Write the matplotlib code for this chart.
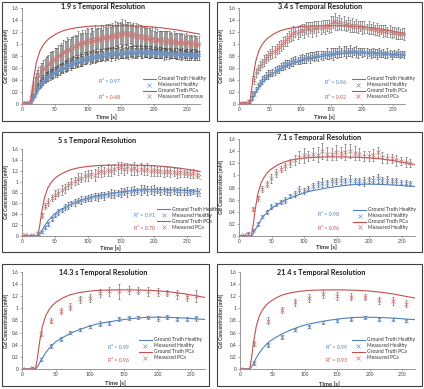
import numpy as np
import matplotlib
matplotlib.use("Agg")
import matplotlib.pyplot as plt
from matplotlib.patches import Rectangle

plt.rcParams['font.family'] = ['Lato', 'DejaVu Sans']

# ground truth curves, time relative to contrast arrival [s]
gt_trel = [0, 3, 6, 10, 15, 20, 25, 30, 40, 50, 60, 70, 80, 90, 100, 120, 140, 160, 180, 200, 220, 240, 260]
gt_healthy = [0, 0.04, 0.10, 0.18, 0.27, 0.34, 0.40, 0.45, 0.52, 0.58, 0.63, 0.67, 0.71, 0.74, 0.76, 0.80,
              0.83, 0.85, 0.855, 0.85, 0.84, 0.825, 0.81]
gt_pca = [0, 0.20, 0.45, 0.70, 0.88, 0.98, 1.05, 1.10, 1.17, 1.22, 1.25, 1.27, 1.285, 1.295, 1.30, 1.305,
          1.305, 1.30, 1.29, 1.27, 1.24, 1.20, 1.16]

titles = ["1.9 s Temporal Resolution", "3.4 s Temporal Resolution", "5 s Temporal Resolution",
          "7.1 s Temporal Resolution", "14.3 s Temporal Resolution", "21.4 s Temporal Resolution"]
dts = [1.9, 3.4, 5.0, 7.1, 14.3, 21.4]
onsets = [12, 17, 24, 19, 20, 15]
r2_healthy = ["0.97", "0.96", "0.91", "0.98", "0.99", "0.99"]
r2_pca = ["0.48", "0.92", "0.70", "0.96", "0.96", "0.93"]
legend_labels = [
    ["Ground Truth Healthy", "Measured Healthy", "Ground Truth PCa", "Measured Tumorous"],
    ["Ground Truth Healthy", "Measured Healthy", "Ground Truth PCa", "Measured PCa"],
    ["Ground Truth Healthy", "Measured Healthy", "Ground Truth PCa", "Measured PCa"],
    ["Ground Truth Healthy", "Measured Healthy", "Ground Truth PCa", "Measured Healthy"],
    ["Ground Truth Healthy", "Measured Healthy", "Ground Truth PCa", "Measured PCa"],
    ["Ground Truth Healthy", "Measured Healthy", "Ground Truth PCa", "Measured PCa"],
]

# measured curves [mM], one value per sample
p1_healthy = [0.01, 0.00, 0.02, 0.00, 0.01, 0.02, 0.00, 0.04, 0.08, 0.12,
              0.17, 0.21, 0.26, 0.29, 0.33, 0.35, 0.38, 0.40, 0.42, 0.45,
              0.46, 0.47, 0.49, 0.50, 0.50, 0.52, 0.53, 0.55, 0.54, 0.57,
              0.58, 0.59, 0.61, 0.60, 0.63, 0.64, 0.63, 0.66, 0.67, 0.66,
              0.68, 0.70, 0.69, 0.71, 0.72, 0.70, 0.73, 0.74, 0.72, 0.75,
              0.76, 0.74, 0.77, 0.78, 0.76, 0.79, 0.77, 0.80, 0.78, 0.81,
              0.79, 0.80, 0.82, 0.80, 0.83, 0.81, 0.82, 0.84, 0.82, 0.83,
              0.85, 0.83, 0.84, 0.86, 0.84, 0.85, 0.87, 0.85, 0.84, 0.86,
              0.87, 0.85, 0.86, 0.88, 0.86, 0.85, 0.87, 0.88, 0.86, 0.87,
              0.85, 0.88, 0.86, 0.87, 0.89, 0.86, 0.85, 0.87, 0.88, 0.86,
              0.87, 0.85, 0.86, 0.88, 0.85, 0.86, 0.84, 0.87, 0.85, 0.86,
              0.84, 0.86, 0.85, 0.83, 0.86, 0.84, 0.85, 0.83, 0.85, 0.84,
              0.83, 0.85, 0.84, 0.82, 0.84, 0.83, 0.85, 0.82, 0.84, 0.83,
              0.82, 0.84, 0.83, 0.81, 0.83, 0.82, 0.84, 0.82, 0.81, 0.83, 0.82, 0.81]
p1_healthy_err = [0.01, 0.01, 0.01, 0.01, 0.01, 0.01, 0.01, 0.02, 0.03, 0.04,
                  0.05, 0.05, 0.06, 0.06, 0.07, 0.06, 0.07, 0.08, 0.07, 0.08,
                  0.07, 0.08, 0.09, 0.07, 0.08, 0.09, 0.08, 0.07, 0.09, 0.08,
                  0.09, 0.08, 0.07, 0.09, 0.08, 0.10, 0.08, 0.09, 0.07, 0.09,
                  0.08, 0.10, 0.09, 0.07, 0.10, 0.08, 0.09, 0.11, 0.08, 0.09,
                  0.10, 0.08, 0.09, 0.07, 0.10, 0.09, 0.08, 0.10, 0.09, 0.11,
                  0.08, 0.09, 0.10, 0.08, 0.09, 0.07, 0.10, 0.09, 0.08, 0.10,
                  0.09, 0.11, 0.08, 0.09, 0.10, 0.08, 0.09, 0.10, 0.07, 0.09,
                  0.10, 0.08, 0.09, 0.11, 0.08, 0.10, 0.09, 0.08, 0.10, 0.09,
                  0.08, 0.10, 0.09, 0.07, 0.09, 0.10, 0.08, 0.09, 0.10, 0.08,
                  0.09, 0.08, 0.10, 0.09, 0.07, 0.09, 0.08, 0.10, 0.08, 0.09,
                  0.07, 0.09, 0.08, 0.10, 0.08, 0.09, 0.07, 0.08, 0.09, 0.08,
                  0.07, 0.09, 0.08, 0.07, 0.09, 0.08, 0.07, 0.08, 0.09, 0.07,
                  0.08, 0.07, 0.09, 0.08, 0.07, 0.08, 0.07, 0.09, 0.08, 0.07, 0.08, 0.07]
p1_pca = [0.00, 0.01, 0.00, 0.02, 0.00, 0.01, 0.03, 0.10, 0.20, 0.28,
          0.34, 0.40, 0.44, 0.47, 0.50, 0.53, 0.55, 0.58, 0.60, 0.62,
          0.64, 0.66, 0.68, 0.70, 0.71, 0.73, 0.75, 0.76, 0.78, 0.80,
          0.82, 0.84, 0.83, 0.86, 0.88, 0.87, 0.90, 0.92, 0.90, 0.94,
          0.95, 0.93, 0.97, 0.98, 0.96, 1.00, 1.01, 0.98, 1.03, 1.02,
          1.04, 1.01, 1.05, 1.07, 1.03, 1.06, 1.08, 1.05, 1.09, 1.07,
          1.10, 1.06, 1.09, 1.11, 1.08, 1.12, 1.10, 1.13, 1.09, 1.12,
          1.14, 1.11, 1.15, 1.12, 1.16, 1.13, 1.17, 1.14, 1.18, 1.15,
          1.19, 1.16, 1.20, 1.17, 1.18, 1.15, 1.19, 1.16, 1.14, 1.17,
          1.13, 1.16, 1.12, 1.15, 1.11, 1.14, 1.10, 1.13, 1.09, 1.12,
          1.10, 1.08, 1.11, 1.07, 1.10, 1.06, 1.09, 1.05, 1.08, 1.06,
          1.07, 1.04, 1.08, 1.05, 1.03, 1.06, 1.04, 1.07, 1.03, 1.05,
          1.02, 1.05, 1.03, 1.06, 1.02, 1.04, 1.01, 1.05, 1.02, 1.03,
          1.00, 1.04, 1.01, 1.03, 0.99, 1.02, 1.00, 1.03, 0.99, 1.01, 0.98, 1.00]
p1_pca_err = [0.01, 0.01, 0.01, 0.01, 0.01, 0.01, 0.02, 0.05, 0.08, 0.10,
              0.11, 0.12, 0.13, 0.14, 0.13, 0.15, 0.14, 0.16, 0.15, 0.17,
              0.16, 0.15, 0.18, 0.16, 0.17, 0.15, 0.18, 0.17, 0.16, 0.19,
              0.17, 0.18, 0.16, 0.20, 0.17, 0.18, 0.21, 0.16, 0.19, 0.18,
              0.17, 0.20, 0.18, 0.16, 0.19, 0.21, 0.17, 0.18, 0.20, 0.16,
              0.19, 0.17, 0.21, 0.18, 0.16, 0.20, 0.19, 0.17, 0.22, 0.18,
              0.17, 0.20, 0.18, 0.21, 0.16, 0.19, 0.18, 0.20, 0.17, 0.21,
              0.19, 0.17, 0.20, 0.18, 0.22, 0.17, 0.19, 0.21, 0.18, 0.20,
              0.22, 0.18, 0.20, 0.17, 0.19, 0.21, 0.18, 0.16, 0.20, 0.18,
              0.17, 0.19, 0.16, 0.18, 0.20, 0.17, 0.19, 0.16, 0.18, 0.17,
              0.16, 0.18, 0.15, 0.17, 0.19, 0.16, 0.18, 0.15, 0.17, 0.16,
              0.15, 0.17, 0.14, 0.16, 0.18, 0.15, 0.17, 0.14, 0.16, 0.15,
              0.14, 0.16, 0.15, 0.13, 0.16, 0.14, 0.15, 0.13, 0.15, 0.14,
              0.13, 0.15, 0.14, 0.12, 0.15, 0.13, 0.14, 0.12, 0.14, 0.13, 0.12, 0.13]

p2_healthy = [0.00, 0.01, 0.00, 0.02, 0.01, 0.04, 0.10, 0.17, 0.24, 0.30,
              0.35, 0.40, 0.43, 0.47, 0.49, 0.51, 0.52, 0.55, 0.57, 0.58,
              0.62, 0.63, 0.66, 0.68, 0.67, 0.70, 0.71, 0.73, 0.72, 0.74,
              0.76, 0.75, 0.77, 0.78, 0.77, 0.80, 0.79, 0.81, 0.80, 0.82,
              0.81, 0.83, 0.84, 0.82, 0.85, 0.84, 0.86, 0.85, 0.87, 0.86,
              0.88, 0.86, 0.87, 0.89, 0.86, 0.88, 0.87, 0.85, 0.88, 0.86,
              0.87, 0.85, 0.86, 0.84, 0.86, 0.85, 0.83, 0.86, 0.84, 0.85,
              0.83, 0.85, 0.84, 0.82, 0.84, 0.83, 0.85, 0.82, 0.84, 0.83]
p2_healthy_err = [0.01, 0.01, 0.01, 0.01, 0.01, 0.02, 0.03, 0.04, 0.04, 0.05,
                  0.05, 0.06, 0.05, 0.06, 0.07, 0.05, 0.06, 0.07, 0.06, 0.07,
                  0.06, 0.07, 0.08, 0.06, 0.07, 0.06, 0.08, 0.07, 0.06, 0.08,
                  0.07, 0.06, 0.08, 0.07, 0.09, 0.06, 0.08, 0.07, 0.09, 0.07,
                  0.08, 0.06, 0.09, 0.07, 0.08, 0.10, 0.07, 0.08, 0.09, 0.07,
                  0.08, 0.10, 0.07, 0.09, 0.08, 0.07, 0.09, 0.08, 0.06, 0.08,
                  0.07, 0.09, 0.06, 0.08, 0.07, 0.06, 0.08, 0.07, 0.06, 0.07,
                  0.06, 0.08, 0.06, 0.07, 0.06, 0.05, 0.07, 0.06, 0.05, 0.06]
p2_pca = [0.01, 0.00, 0.02, 0.00, 0.01, 0.05, 0.18, 0.40, 0.52, 0.58,
          0.64, 0.68, 0.72, 0.76, 0.80, 0.83, 0.86, 0.88, 0.92, 0.95,
          0.98, 1.02, 1.05, 1.08, 1.12, 1.15, 1.18, 1.20, 1.19, 1.22,
          1.24, 1.22, 1.26, 1.25, 1.27, 1.24, 1.28, 1.26, 1.29, 1.27,
          1.30, 1.28, 1.31, 1.29, 1.33, 1.36, 1.38, 1.34, 1.37, 1.33,
          1.35, 1.31, 1.34, 1.30, 1.32, 1.29, 1.31, 1.28, 1.30, 1.27,
          1.28, 1.26, 1.27, 1.25, 1.26, 1.23, 1.25, 1.22, 1.24, 1.21,
          1.22, 1.20, 1.21, 1.19, 1.20, 1.18, 1.19, 1.17, 1.18, 1.16]
p2_pca_err = [0.01, 0.01, 0.01, 0.01, 0.01, 0.02, 0.04, 0.06, 0.07, 0.07,
              0.08, 0.07, 0.09, 0.08, 0.09, 0.08, 0.10, 0.09, 0.08, 0.10,
              0.09, 0.10, 0.08, 0.11, 0.09, 0.10, 0.12, 0.09, 0.11, 0.10,
              0.09, 0.12, 0.10, 0.11, 0.09, 0.12, 0.10, 0.13, 0.09, 0.11,
              0.10, 0.12, 0.09, 0.11, 0.13, 0.10, 0.14, 0.11, 0.12, 0.10,
              0.12, 0.09, 0.11, 0.10, 0.12, 0.09, 0.11, 0.10, 0.09, 0.11,
              0.10, 0.08, 0.11, 0.09, 0.10, 0.08, 0.10, 0.09, 0.08, 0.10,
              0.09, 0.08, 0.10, 0.09, 0.08, 0.09, 0.10, 0.08, 0.09, 0.10]

p3_healthy = [0.00, 0.01, 0.00, 0.01, 0.00, 0.03, 0.08, 0.16, 0.22, 0.31,
              0.39, 0.44, 0.48, 0.53, 0.56, 0.60, 0.62, 0.65, 0.66, 0.68,
              0.70, 0.71, 0.73, 0.72, 0.75, 0.74, 0.77, 0.78, 0.77, 0.79,
              0.80, 0.82, 0.81, 0.83, 0.84, 0.83, 0.85, 0.86, 0.84, 0.85,
              0.84, 0.85, 0.83, 0.84, 0.82, 0.83, 0.84, 0.82, 0.83, 0.82,
              0.83, 0.81, 0.82, 0.81, 0.80]
p3_healthy_err = [0.01, 0.01, 0.01, 0.01, 0.01, 0.01, 0.02, 0.03, 0.03, 0.04,
                  0.04, 0.05, 0.04, 0.05, 0.06, 0.05, 0.06, 0.05, 0.07, 0.06,
                  0.05, 0.07, 0.06, 0.08, 0.06, 0.07, 0.06, 0.08, 0.07, 0.06,
                  0.08, 0.07, 0.09, 0.07, 0.08, 0.06, 0.09, 0.07, 0.08, 0.07,
                  0.09, 0.06, 0.08, 0.07, 0.06, 0.08, 0.07, 0.06, 0.08, 0.06,
                  0.07, 0.06, 0.05, 0.07, 0.06]
p3_pca = [0.00, 0.01, 0.00, 0.01, 0.00, 0.05, 0.38, 0.55, 0.63, 0.70,
          0.76, 0.80, 0.84, 0.88, 0.93, 0.97, 1.01, 1.05, 1.07, 1.10,
          1.12, 1.14, 1.13, 1.17, 1.19, 1.18, 1.21, 1.20, 1.23, 1.25,
          1.26, 1.24, 1.25, 1.23, 1.25, 1.22, 1.24, 1.21, 1.23, 1.20,
          1.21, 1.19, 1.20, 1.18, 1.19, 1.17, 1.18, 1.16, 1.17, 1.15,
          1.16, 1.14, 1.15, 1.13, 1.12]
p3_pca_err = [0.01, 0.01, 0.01, 0.01, 0.01, 0.02, 0.05, 0.06, 0.07, 0.06,
              0.08, 0.07, 0.09, 0.08, 0.07, 0.09, 0.08, 0.10, 0.08, 0.09,
              0.10, 0.08, 0.11, 0.09, 0.10, 0.08, 0.11, 0.10, 0.09, 0.12,
              0.10, 0.11, 0.09, 0.10, 0.12, 0.09, 0.10, 0.08, 0.11, 0.09,
              0.10, 0.08, 0.09, 0.10, 0.08, 0.09, 0.07, 0.09, 0.08, 0.07,
              0.08, 0.07, 0.08, 0.06, 0.07]

p4_healthy = [0.00, 0.01, 0.03, 0.10, 0.20, 0.32, 0.40, 0.48, 0.52, 0.56,
              0.60, 0.66, 0.70, 0.76, 0.74, 0.78, 0.82, 0.86, 0.88, 0.88,
              0.90, 0.90, 0.92, 0.90, 0.93, 0.91, 0.90, 0.90, 0.92, 0.93,
              0.95, 0.92, 0.93, 0.90, 0.90, 0.88, 0.87, 0.86]
p4_healthy_err = [0.01, 0.01, 0.02, 0.02, 0.03, 0.03, 0.03, 0.04, 0.03, 0.04,
                  0.05, 0.04, 0.05, 0.06, 0.05, 0.04, 0.06, 0.05, 0.07, 0.05,
                  0.06, 0.05, 0.07, 0.06, 0.08, 0.05, 0.06, 0.07, 0.05, 0.06,
                  0.07, 0.05, 0.06, 0.05, 0.06, 0.04, 0.05, 0.04]
p4_pca = [0.00, 0.01, 0.04, 0.45, 0.62, 0.78, 0.86, 0.95, 1.04, 1.10,
          1.15, 1.20, 1.25, 1.30, 1.33, 1.32, 1.35, 1.34, 1.40, 1.36,
          1.35, 1.38, 1.37, 1.38, 1.40, 1.37, 1.35, 1.32, 1.32, 1.34,
          1.38, 1.30, 1.28, 1.28, 1.25, 1.24, 1.22, 1.20]
p4_pca_err = [0.01, 0.01, 0.02, 0.03, 0.04, 0.05, 0.05, 0.08, 0.06, 0.05,
              0.06, 0.07, 0.08, 0.10, 0.12, 0.09, 0.10, 0.12, 0.13, 0.11,
              0.10, 0.12, 0.09, 0.13, 0.11, 0.12, 0.10, 0.08, 0.09, 0.10,
              0.08, 0.09, 0.07, 0.08, 0.09, 0.07, 0.08, 0.07]

p5_healthy = [0.00, 0.02, 0.16, 0.38, 0.50, 0.60, 0.65, 0.70, 0.75, 0.76,
              0.82, 0.84, 0.85, 0.85, 0.84, 0.86, 0.83, 0.83, 0.84]
p5_healthy_err = [0.01, 0.02, 0.02, 0.03, 0.03, 0.02, 0.03, 0.03, 0.04, 0.03,
                  0.03, 0.03, 0.02, 0.03, 0.04, 0.03, 0.03, 0.03, 0.04]
p5_pca = [0.00, 0.02, 0.58, 0.80, 0.95, 1.03, 1.15, 1.17, 1.25, 1.28,
          1.28, 1.30, 1.29, 1.28, 1.27, 1.25, 1.23, 1.18, 1.20]
p5_pca_err = [0.01, 0.02, 0.04, 0.04, 0.05, 0.06, 0.06, 0.06, 0.07, 0.08,
              0.12, 0.07, 0.06, 0.08, 0.07, 0.05, 0.07, 0.06, 0.10]

p6_healthy = [0.00, 0.10, 0.40, 0.53, 0.65, 0.70, 0.77, 0.80, 0.82, 0.85, 0.82, 0.82, 0.80]
p6_healthy_err = [0.01, 0.03, 0.03, 0.03, 0.02, 0.03, 0.03, 0.03, 0.03, 0.03, 0.02, 0.02, 0.03]
p6_pca = [0.00, 0.42, 0.80, 0.98, 1.10, 1.17, 1.24, 1.20, 1.19, 1.18, 1.13, 1.12, 1.08]
p6_pca_err = [0.01, 0.04, 0.05, 0.05, 0.06, 0.06, 0.07, 0.07, 0.06, 0.05, 0.06, 0.06, 0.06]

healthy = [p1_healthy, p2_healthy, p3_healthy, p4_healthy, p5_healthy, p6_healthy]
healthy_err = [p1_healthy_err, p2_healthy_err, p3_healthy_err, p4_healthy_err, p5_healthy_err, p6_healthy_err]
pca = [p1_pca, p2_pca, p3_pca, p4_pca, p5_pca, p6_pca]
pca_err = [p1_pca_err, p2_pca_err, p3_pca_err, p4_pca_err, p5_pca_err, p6_pca_err]

yticks = [0, 0.2, 0.4, 0.6, 0.8, 1.0, 1.2, 1.4, 1.6]
ytick_labels = ["0", "0.2", "0.4", "0.6", "0.8", "1", "1.2", "1.4", "1.6"]
xticks = [0, 50, 100, 150, 200, 250]

# layout in pixels of the 424x389 picture
W, H = 424, 389
plot_px = [(22, 8, 200, 104), (239, 8, 405, 104), (22, 149, 200, 236),
           (239, 139, 415, 236), (22, 272, 205, 369), (240, 272, 415, 369)]
border_px = [(2, 2, 209, 121), (217, 2, 422, 121), (2, 132, 209, 252),
             (217, 132, 422, 252), (2, 264, 209, 386), (217, 264, 422, 386)]
title_px = [(103, 7), (320, 7), (97, 141), (319, 137), (103, 273), (321, 273)]
xlabel_px = [(106, 117), (324, 117), (110, 248), (326, 247), (115, 383), (329, 384)]
ylabel_px = [(6, 56), (221, 56), (6, 192), (221, 187), (6, 321), (221, 321)]
legend_anchor = [(0.68, 0.05), (0.68, 0.05), (0.76, 0.07), (0.65, 0.06), (0.64, 0.09), (0.64, 0.09)]
r2_pos = [(0.49, 0.23, 0.07), (0.58, 0.22, 0.07), (0.69, 0.24, 0.09),
          (0.51, 0.22, 0.08), (0.53, 0.22, 0.09), (0.55, 0.22, 0.09)]

blue = '#4F81BD'
red = '#C0504D'
blue_m = '#6f95c8'
red_m = '#cc7a78'
axis_gray = '#868686'

fig = plt.figure(figsize=(W / 100, H / 100), dpi=100)

for i in range(6):
    x0, y0, x1, y1 = plot_px[i]
    ax = fig.add_axes([x0 / W, 1 - y1 / H, (x1 - x0) / W, (y1 - y0) / H])

    bx0, by0, bx1, by1 = border_px[i]
    fig.patches.append(Rectangle((bx0 / W, 1 - by1 / H), (bx1 - bx0) / W, (by1 - by0) / H,
                                 transform=fig.transFigure, fill=False, ec='#404040', lw=0.8))

    t_h = np.arange(len(healthy[i])) * dts[i]
    t_p = np.arange(len(pca[i])) * dts[i]
    gt_t = np.concatenate([[0], onsets[i] + np.array(gt_trel)])

    ax.errorbar(t_h, healthy[i], yerr=healthy_err[i], fmt='none', ecolor='#303030',
                elinewidth=0.4, capsize=1.0, capthick=0.4, zorder=2)
    ax.errorbar(t_p, pca[i], yerr=pca_err[i], fmt='none', ecolor='#505050',
                elinewidth=0.4, capsize=1.0, capthick=0.4, zorder=2)
    l1, = ax.plot(gt_t, np.concatenate([[0], gt_healthy]), color=blue, lw=0.8, zorder=3)
    m1, = ax.plot(t_h, healthy[i], 'x', color=blue_m, ms=2.7, mew=0.5, zorder=4)
    l2, = ax.plot(gt_t, np.concatenate([[0], gt_pca]), color=red, lw=0.8, zorder=3)
    m2, = ax.plot(t_p, pca[i], 'x', color=red_m, ms=2.7, mew=0.5, zorder=4)

    ax.set_xlim(0, 270)
    ax.set_ylim(0, 1.6)
    ax.set_xticks(xticks)
    ax.set_yticks(yticks)
    ax.set_yticklabels(ytick_labels)
    ax.tick_params(direction='out', length=1.5, width=0.5, color=axis_gray,
                   labelsize=3.5, pad=0.8, labelcolor='#404040')
    for s in ['top', 'right']:
        ax.spines[s].set_visible(False)
    for s in ['left', 'bottom']:
        ax.spines[s].set_color(axis_gray)
        ax.spines[s].set_linewidth(0.6)
    ax.patch.set_alpha(0)

    leg = ax.legend([l1, m1, l2, m2], legend_labels[i], loc='lower left',
                    bbox_to_anchor=legend_anchor[i], fontsize=3.5, frameon=False,
                    handlelength=2.6, handletextpad=0.5, labelspacing=0.2,
                    borderpad=0, borderaxespad=0)
    for txt in leg.get_texts():
        txt.set_color('#303030')

    rx, ry1, ry2 = r2_pos[i]
    ax.text(rx, ry1, "R² = " + r2_healthy[i], transform=ax.transAxes, fontsize=3.8,
            color=blue, ha='center', va='center')
    ax.text(rx, ry2, "R² = " + r2_pca[i], transform=ax.transAxes, fontsize=3.8,
            color=red, ha='center', va='center')

    tx, ty = title_px[i]
    fig.text(tx / W, 1 - ty / H, titles[i], fontsize=5.2, fontweight='bold',
             ha='center', va='center', color='#1a1a1a')
    lx, ly = xlabel_px[i]
    fig.text(lx / W, 1 - ly / H, "Time [s]", fontsize=4.2, fontweight='bold',
             ha='center', va='center', color='#303030')
    yx, yy = ylabel_px[i]
    fig.text(yx / W, 1 - yy / H, "Gd Concentration [mM]", fontsize=3.7, fontweight='bold',
             ha='center', va='center', rotation=90, color='#303030')

fig.savefig("out.png", dpi=100)
